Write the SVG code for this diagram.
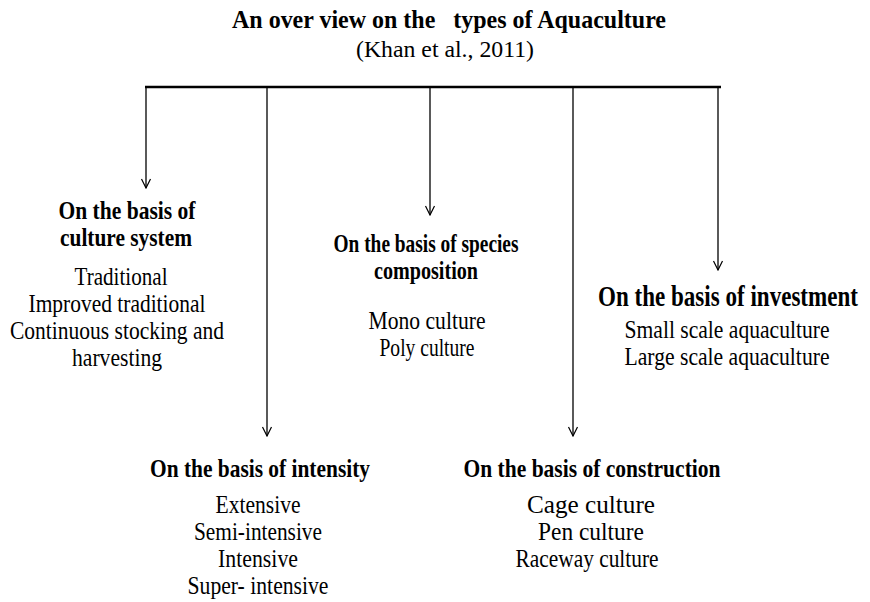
<svg xmlns="http://www.w3.org/2000/svg" width="870" height="602" viewBox="0 0 870 602">
<defs>
<marker id="arr" viewBox="0 0 12 12" refX="11" refY="6" markerWidth="12" markerHeight="12" markerUnits="userSpaceOnUse" orient="auto">
<polyline points="2,1.5 11,6 2,10.5" fill="none" stroke="#000" stroke-width="1.2"/>
</marker>
</defs>
<g font-family="Liberation Serif, Times New Roman, serif" fill="#000" text-anchor="middle">
<g id="title">
<text font-weight="bold" font-size="25" x="449" y="28" textLength="434" lengthAdjust="spacingAndGlyphs" xml:space="preserve">An over view on the   types of Aquaculture</text>
<text font-size="24" x="445" y="57" textLength="178" lengthAdjust="spacingAndGlyphs">(Khan et al., 2011)</text>
</g>
<g id="culture-system">
<text font-weight="bold" font-size="25" x="127" y="219" textLength="137" lengthAdjust="spacingAndGlyphs">On the basis of</text>
<text font-weight="bold" font-size="25" x="126" y="246" textLength="132" lengthAdjust="spacingAndGlyphs">culture system</text>
<text font-size="25.5" x="121" y="285" textLength="93" lengthAdjust="spacingAndGlyphs">Traditional</text>
<text font-size="25.5" x="117" y="312" textLength="177" lengthAdjust="spacingAndGlyphs">Improved traditional</text>
<text font-size="25.5" x="117" y="339" textLength="214" lengthAdjust="spacingAndGlyphs">Continuous stocking and</text>
<text font-size="25.5" x="117" y="366" textLength="90" lengthAdjust="spacingAndGlyphs">harvesting</text>
</g>
<g id="species-composition">
<text font-weight="bold" font-size="25" x="426" y="252" textLength="185" lengthAdjust="spacingAndGlyphs">On the basis of species</text>
<text font-weight="bold" font-size="25" x="426" y="279" textLength="104" lengthAdjust="spacingAndGlyphs">composition</text>
<text font-size="25.5" x="427" y="329" textLength="117" lengthAdjust="spacingAndGlyphs">Mono culture</text>
<text font-size="25.5" x="427" y="356" textLength="95" lengthAdjust="spacingAndGlyphs">Poly culture</text>
</g>
<g id="investment">
<text font-weight="bold" font-size="29" transform="translate(728,306) scale(0.795,1)" x="0" y="0">On the basis of investment</text>
<text font-size="25.5" x="727" y="338" textLength="205" lengthAdjust="spacingAndGlyphs">Small scale aquaculture</text>
<text font-size="25.5" x="727" y="365" textLength="205" lengthAdjust="spacingAndGlyphs">Large scale aquaculture</text>
</g>
<g id="intensity">
<text font-weight="bold" font-size="25" x="260" y="477" textLength="220" lengthAdjust="spacingAndGlyphs">On the basis of intensity</text>
<text font-size="25.5" x="258" y="513" textLength="85" lengthAdjust="spacingAndGlyphs">Extensive</text>
<text font-size="25.5" x="258" y="540" textLength="128" lengthAdjust="spacingAndGlyphs">Semi-intensive</text>
<text font-size="25.5" x="258" y="567" textLength="80" lengthAdjust="spacingAndGlyphs">Intensive</text>
<text font-size="25.5" x="258" y="594" textLength="141" lengthAdjust="spacingAndGlyphs">Super- intensive</text>
</g>
<g id="construction">
<text font-weight="bold" font-size="25" x="592" y="477" textLength="257" lengthAdjust="spacingAndGlyphs">On the basis of construction</text>
<text font-size="25.5" x="591" y="513" textLength="128" lengthAdjust="spacingAndGlyphs">Cage culture</text>
<text font-size="25.5" x="591" y="540" textLength="106" lengthAdjust="spacingAndGlyphs">Pen culture</text>
<text font-size="25.5" x="587" y="567" textLength="143" lengthAdjust="spacingAndGlyphs">Raceway culture</text>
</g>
</g>
<g id="connectors" fill="none" stroke="#000">
<line x1="145" y1="87" x2="721" y2="87" stroke-width="2.6"/>
<line x1="146" y1="87" x2="146" y2="188" stroke-width="1.3" marker-end="url(#arr)"/>
<line x1="267" y1="87" x2="267" y2="436" stroke-width="1.3" marker-end="url(#arr)"/>
<line x1="430" y1="87" x2="430" y2="215" stroke-width="1.3" marker-end="url(#arr)"/>
<line x1="573" y1="87" x2="573" y2="436" stroke-width="1.3" marker-end="url(#arr)"/>
<line x1="718" y1="87" x2="718" y2="270" stroke-width="1.3" marker-end="url(#arr)"/>
</g>
</svg>
